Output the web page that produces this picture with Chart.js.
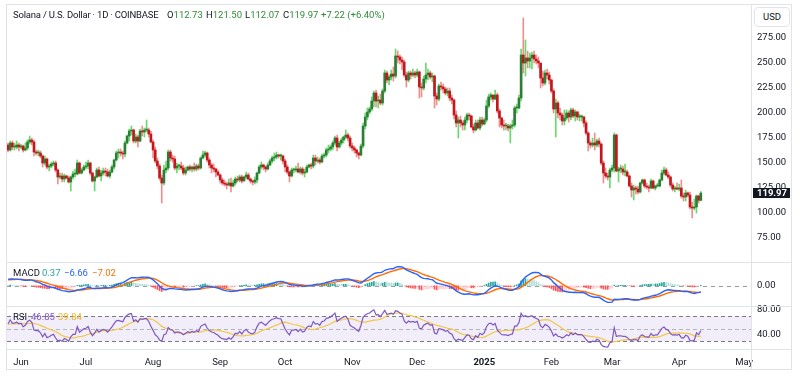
<!DOCTYPE html>
<html>
<head>
<meta charset="utf-8">
<title>Solana / U.S. Dollar · 1D · COINBASE</title>
<script src="https://cdn.jsdelivr.net/npm/chart.js@4.4.1/dist/chart.umd.min.js"></script>
<style>
html,body{margin:0;padding:0;background:#ffffff;}
body{width:800px;height:380px;position:relative;overflow:hidden;font-family:Roboto,"Liberation Sans",Arial,sans-serif;}
canvas{position:absolute;display:block;}
.ln{position:absolute;background:#e0e3eb;}
.t{position:absolute;white-space:nowrap;font-size:9.5px;line-height:12px;color:#131722;letter-spacing:0;}
.up{color:#2e8b3a;}
.box{position:absolute;left:754px;top:7px;width:34px;height:18px;border:1px solid #e0e3eb;border-radius:4px;background:#fff;font-size:9.5px;line-height:18px;text-align:center;color:#131722;}
</style>
</head>
<body>
<canvas id="priceChart" width="785" height="257" style="left:7px;top:5px"></canvas>
<canvas id="macdChart" width="785" height="43" style="left:7px;top:263px"></canvas>
<canvas id="rsiChart" width="785" height="70" style="left:7px;top:300px"></canvas>

<div class="ln" style="left:6px;top:4px;width:786px;height:1px"></div>
<div class="ln" style="left:6px;top:4px;width:1px;height:366px"></div>
<div class="ln" style="left:791px;top:4px;width:1px;height:366px"></div>
<div class="ln" style="left:751px;top:4px;width:1px;height:366px"></div>
<div class="ln" style="left:6px;top:262px;width:786px;height:1px"></div>
<div class="ln" style="left:6px;top:306px;width:786px;height:1px"></div>
<div class="ln" style="left:6px;top:349px;width:786px;height:1px"></div>
<div class="ln" style="left:6px;top:369px;width:786px;height:1px"></div>

<div class="box">USD</div>
<div class="t" style="left:13px;top:9px;letter-spacing:-0.2px">Solana / U.S. Dollar · 1D · COINBASE</div>
<div class="t" style="left:167px;top:9px">O<span class="up">112.73</span></div>
<div class="t" style="left:206px;top:9px">H<span class="up">121.50</span></div>
<div class="t" style="left:245px;top:9px">L<span class="up">112.07</span></div>
<div class="t" style="left:283px;top:9px">C<span class="up">119.97</span></div>
<div class="t up" style="left:321px;top:9px">+7.22 (+6.40%)</div>

<div class="t" style="left:13px;top:267px">MACD</div>
<div class="t" style="left:42px;top:267px;color:#26a69a">0.37</div>
<div class="t" style="left:64px;top:267px;color:#2962ff">−6.66</div>
<div class="t" style="left:92px;top:267px;color:#ff6d00">−7.02</div>

<div class="t" style="left:13px;top:311px">RSI</div>
<div class="t" style="left:31px;top:311px;color:#7e57c2">46.85</div>
<div class="t" style="left:58px;top:311px;color:#e9b820">39.84</div>

<script>
// ---------------- DATA (daily SOL/USD, Coinbase) ----------------
const startDate = '2024-05-26';
const firstOpen = 168;

const closes = [
  // May 26-31
  163,170,166,166,168,166,
  // Jun
  167,163,165,171,173,171,161,160,160,157,150,154,146,147,149,150,143,136,137,134,137,135,131,136,139,139,150,140,143,146,
  // Jul
  147,150,140,132,136,143,137,140,142,141,137,141,146,153,160,161,160,159,170,177,182,183,172,176,172,182,181,183,183,179,171,
  // Aug
  163,152,147,135,130,143,145,161,155,154,145,147,147,145,140,143,146,144,146,144,147,145,155,158,160,153,148,145,144,141,138,
  // Sep
  133,130,129,128,130,127,130,134,133,136,132,136,138,134,132,131,133,140,146,148,146,144,148,152,155,156,158,157,157,152,
  // Oct
  146,141,137,143,143,144,141,144,140,141,146,148,147,155,152,153,151,157,158,163,164,166,170,175,166,170,173,176,178,175,167,
  // Nov
  165,163,160,158,167,187,196,201,204,212,220,212,213,210,222,240,233,236,239,237,257,256,253,251,238,233,240,238,240,238,
  // Dec
  241,226,225,234,238,240,236,237,217,214,227,226,224,220,222,215,213,198,190,193,190,188,193,198,197,186,183,190,185,193,189,
  // Jan 2025
  193,207,216,218,214,218,202,195,188,187,187,185,187,188,205,205,215,258,250,255,252,255,258,254,252,250,235,230,240,238,233,
  // Feb
  222,204,210,200,198,192,195,200,196,203,197,201,196,196,196,190,180,170,168,170,168,172,169,150,140,137,136,143,
  // Mar
  145,178,142,144,144,141,141,137,127,123,125,124,121,130,133,127,126,125,132,125,127,127,133,140,143,138,136,128,124,125,124,
  // Apr 1-11
  125,117,116,120,118,106,105,106,117,112.73,119.97
];

const highs = [
  170,172,172,170,172,170,
  169,168,170,173,177,175,173,163,163,162,158,157,155,149,151,152,152,144,140,140,139,138,137,137,142,144,153,151,145,148,
  151,153,151,141,137,145,146,143,145,145,144,143,148,154,162,164,164,162,172,178,184,187,184,179,178,184,187,185,193,185,182,
  173,166,155,149,138,148,152,163,163,158,157,150,149,151,148,146,147,148,147,150,149,149,156,162,162,161,155,150,149,145,143,
  139,135,133,131,134,135,133,136,137,138,138,137,141,140,135,133,136,141,148,151,149,147,150,154,157,160,161,159,159,158,
  154,148,142,145,145,147,150,146,146,144,148,149,150,158,158,156,155,159,160,165,168,168,172,177,178,172,175,177,183,180,177,
  170,167,164,161,169,190,200,205,206,216,222,223,217,219,224,243,242,238,243,246,264,262,258,256,253,241,242,242,244,242,
  244,242,230,237,250,244,242,240,238,220,229,231,229,226,225,225,218,214,202,196,197,192,196,200,200,198,189,193,193,196,196,
  195,213,219,220,218,223,220,204,196,193,190,189,189,193,207,209,218,264,295,273,262,260,261,262,258,256,248,242,243,244,241,
  234,224,214,212,205,200,203,203,202,205,205,203,202,199,198,197,192,181,172,175,180,174,175,170,152,145,140,145,
  148,180,179,146,148,147,149,143,138,130,128,127,127,131,134,134,130,128,134,133,128,130,134,143,146,145,141,137,130,127,130,
  129,133,120,123,121,121,111,114,118,118,121.5
];

const lows = [
  161,162,163,163,164,162,
  164,161,162,163,169,168,157,158,157,155,146,148,144,142,145,147,141,129,134,131,131,134,130,122,134,136,138,139,139,142,
  144,144,138,131,122,135,136,132,138,137,136,135,140,144,152,155,157,154,156,169,172,178,170,170,166,171,177,176,181,176,170,
  155,150,144,133,110,128,140,143,152,151,143,140,143,143,138,138,142,142,141,142,142,143,144,154,156,151,145,140,141,136,137,
  130,128,127,124,127,121,126,128,131,131,130,132,134,133,130,128,129,130,139,144,143,141,143,147,150,152,154,155,153,149,
  141,139,131,136,140,141,140,139,138,136,140,145,144,145,148,150,149,150,155,156,160,162,163,168,162,165,168,170,174,172,165,
  162,160,156,154,157,165,184,193,199,202,206,206,205,208,208,220,230,228,233,232,235,250,249,243,236,226,231,234,236,235,
  236,215,216,223,230,233,234,231,205,208,212,223,220,218,217,212,209,194,186,175,186,183,183,190,193,185,180,182,184,183,187,
  188,191,205,213,211,213,200,186,185,183,183,182,170,184,186,200,204,212,240,237,245,245,244,250,249,245,225,227,228,234,229,
  220,200,176,195,193,188,188,193,191,193,195,192,193,192,192,186,178,162,165,166,163,166,166,148,130,135,133,125,
  141,141,141,131,140,138,137,136,126,116,113,119,119,120,129,125,124,121,124,124,123,126,126,132,138,137,134,126,122,121,123,
  122,115,112,112,116,104,95,103,100,110,112.07
];

// Axis tick labels
const priceTicks = [75, 100, 125, 150, 175, 200, 225, 250, 275];
const monthStarts = ['2024-06-01','2024-07-01','2024-08-01','2024-09-01','2024-10-01','2024-11-01','2024-12-01','2025-01-01','2025-02-01','2025-03-01','2025-04-01','2025-05-01'];
const monthLabels = ['Jun','Jul','Aug','Sep','Oct','Nov','Dec','2025','Feb','Mar','Apr','May'];
const macdTicks = [0];
const rsiTicks = [40, 80];
const rsiBands = [70, 50, 30];

// indicator values at the first visible bar
const macdStart = 7, signalStart = 6.5;
const rsiStart = 58, rsiMaStart = 57;

// ---------------- DERIVED ----------------
const n = closes.length;
const DAY = 86400000;
const t0 = Date.parse(startDate);
const dates = closes.map((_, i) => new Date(t0 + i * DAY).toISOString().slice(0, 10));
const idx = dates.map((_, i) => i);
const opens = [firstOpen].concat(closes.slice(0, -1));
const isUp = idx.map(i => closes[i] >= opens[i]);
const monthTickIdx = monthStarts.map(s => Math.round((Date.parse(s) - t0) / DAY));

// MACD (12, 26, 9)
const k12 = 2 / 13, k26 = 2 / 27, k9 = 2 / 10;
const slope = macdStart / 7;
let e12 = closes[0] - 5.5 * slope, e26 = closes[0] - 12.5 * slope, sig = signalStart;
const macd = [], signal = [], hist = [];
for (let i = 0; i < n; i++) {
  if (i > 0) {
    e12 += k12 * (closes[i] - e12);
    e26 += k26 * (closes[i] - e26);
  }
  const m = e12 - e26;
  if (i > 0) sig += k9 * (m - sig);
  macd.push(m); signal.push(sig); hist.push(m - sig);
}
const histColors = hist.map((h, i) => {
  const prev = i > 0 ? hist[i - 1] : h;
  if (h >= 0) return prev < h ? '#26a69a' : '#b2dfdb';
  return prev < h ? '#ffcdd2' : '#ff5252';
});

// RSI (14) and its 14-bar SMA
let absSum = 0;
for (let i = 1; i <= 14; i++) absSum += Math.abs(closes[i] - closes[i - 1]);
const avgAbs = absSum / 14;
let ag = avgAbs * rsiStart / 100, al = avgAbs * (1 - rsiStart / 100);
const rsi = [rsiStart];
for (let i = 1; i < n; i++) {
  const ch = closes[i] - closes[i - 1];
  ag = (ag * 13 + Math.max(ch, 0)) / 14;
  al = (al * 13 + Math.max(-ch, 0)) / 14;
  rsi.push(al === 0 ? 100 : 100 - 100 / (1 + ag / al));
}
const rsiMa = rsi.map((_, i) => {
  let s = 0;
  for (let j = i - 13; j <= i; j++) s += j >= 0 ? rsi[j] : rsiMaStart;
  return s / 14;
});

// ---------------- CHARTS ----------------
Chart.defaults.font.family = 'Roboto, "Liberation Sans", Arial, sans-serif';
Chart.defaults.color = '#131722';

const X_MIN = -0.47, X_MAX = 343.18;
const AXIS_W = 41;
const C = { upBody: '#2b7f34', upWick: '#6ad86e', downBody: '#c4161c', downWick: '#f08e8e' };

const baseOpts = {
  responsive: false,
  animation: false,
  events: [],
  layout: { padding: 0 },
  plugins: { legend: { display: false }, tooltip: { enabled: false }, title: { display: false } }
};

function xHidden() {
  return { type: 'linear', display: false, min: X_MIN, max: X_MAX, offset: false };
}
function yRight(min, max, ticks, extra) {
  return Object.assign({
    type: 'linear', position: 'right', min, max,
    grid: { display: false, drawTicks: false },
    border: { display: false },
    ticks: { padding: 6, color: '#131722', font: { size: 9.5 }, callback: v => Number(v).toFixed(2) },
    afterBuildTicks: s => { s.ticks = ticks.map(v => ({ value: v })); },
    afterFit: s => { s.width = AXIS_W; s.paddingTop = 0; s.paddingBottom = 0; }
  }, extra || {});
}

const lastPricePlugin = {
  id: 'lastPrice',
  afterDraw(chart) {
    const { ctx, chartArea: a, scales: { y } } = chart;
    const last = closes[n - 1];
    const py = Math.round(y.getPixelForValue(last));
    ctx.save();
    ctx.fillStyle = '#131722';
    ctx.fillRect(a.right + 2, py - 5, 37, 10);
    ctx.fillStyle = '#ffffff';
    ctx.font = 'bold 9.5px Roboto, "Liberation Sans", Arial, sans-serif';
    ctx.textBaseline = 'middle';
    ctx.textAlign = 'left';
    ctx.fillText(last.toFixed(2), a.right + 6, py + 0.5);
    ctx.restore();
  }
};

new Chart(document.getElementById('priceChart'), {
  type: 'bar',
  data: {
    datasets: [
      {
        label: 'body',
        data: idx.map(i => ({ x: i, y: [opens[i], closes[i]] })),
        backgroundColor: isUp.map(u => u ? C.upBody : C.downBody),
        barThickness: 2, minBarLength: 1, grouped: false, order: 0
      },
      {
        label: 'wick',
        data: idx.map(i => ({ x: i, y: [lows[i], highs[i]] })),
        backgroundColor: isUp.map(u => u ? C.upWick : C.downWick),
        barThickness: 1, grouped: false, order: 1
      }
    ]
  },
  options: Object.assign({}, baseOpts, {
    scales: { x: xHidden(), y: yRight(51, 308, priceTicks) }
  }),
  plugins: [lastPricePlugin]
});

const macdVals = macd.concat(signal, hist);
const mMin = Math.min.apply(null, macdVals), mMax = Math.max.apply(null, macdVals);
const mPad = (mMax - mMin) * 0.1;

const zeroLinePlugin = {
  id: 'zeroLine',
  beforeDatasetsDraw(chart) {
    const { ctx, chartArea: a, scales: { y } } = chart;
    const py = Math.round(y.getPixelForValue(0)) + 0.5;
    ctx.save();
    ctx.strokeStyle = '#9598a1';
    ctx.lineWidth = 1;
    ctx.setLineDash([4, 4]);
    ctx.beginPath(); ctx.moveTo(a.left, py); ctx.lineTo(a.right, py); ctx.stroke();
    ctx.restore();
  }
};

new Chart(document.getElementById('macdChart'), {
  type: 'bar',
  data: {
    datasets: [
      { type: 'line', label: 'MACD', data: idx.map(i => ({ x: i, y: macd[i] })), borderColor: '#2962ff', borderWidth: 1.4, pointRadius: 0, tension: 0, order: 0 },
      { type: 'line', label: 'Signal', data: idx.map(i => ({ x: i, y: signal[i] })), borderColor: '#ff6d00', borderWidth: 1.4, pointRadius: 0, tension: 0, order: 1 },
      { type: 'bar', label: 'Histogram', data: idx.map(i => ({ x: i, y: hist[i] })), backgroundColor: histColors, barThickness: 1, grouped: false, order: 2 }
    ]
  },
  options: Object.assign({}, baseOpts, {
    scales: { x: xHidden(), y: yRight(mMin - mPad, mMax + mPad, macdTicks) }
  }),
  plugins: [zeroLinePlugin]
});

const rsiGuidePlugin = {
  id: 'rsiGuides',
  beforeDatasetsDraw(chart) {
    const { ctx, chartArea: a, scales: { y } } = chart;
    const yTop = y.getPixelForValue(rsiBands[0]);
    const yMid = y.getPixelForValue(rsiBands[1]);
    const yBot = y.getPixelForValue(rsiBands[2]);
    ctx.save();
    ctx.fillStyle = 'rgba(126,87,194,0.1)';
    ctx.fillRect(a.left, yTop, a.right - a.left, yBot - yTop);
    ctx.lineWidth = 1;
    ctx.setLineDash([4, 3]);
    [[yTop, '#787b86'], [yMid, 'rgba(120,123,134,0.5)'], [yBot, '#787b86']].forEach(([p, col]) => {
      const py = Math.round(p) + 0.5;
      ctx.strokeStyle = col;
      ctx.beginPath(); ctx.moveTo(a.left, py); ctx.lineTo(a.right, py); ctx.stroke();
    });
    ctx.restore();
  }
};

new Chart(document.getElementById('rsiChart'), {
  type: 'line',
  data: {
    datasets: [
      { label: 'RSI', data: idx.map(i => ({ x: i, y: rsi[i] })), borderColor: '#7e57c2', borderWidth: 1.2, pointRadius: 0, tension: 0, order: 0 },
      { label: 'RSI-based MA', data: idx.map(i => ({ x: i, y: rsiMa[i] })), borderColor: '#f2c744', borderWidth: 1.2, pointRadius: 0, tension: 0, order: 1 }
    ]
  },
  options: Object.assign({}, baseOpts, {
    layout: { padding: { top: 7, left: 0, right: 0, bottom: 0 } },
    scales: {
      x: {
        type: 'linear', position: 'bottom', min: X_MIN, max: X_MAX, offset: false,
        grid: { display: false, drawTicks: false },
        border: { display: false },
        ticks: {
          padding: 8, maxRotation: 0, minRotation: 0, autoSkip: false, color: '#131722',
          font: c => ({ size: 9.5, weight: monthLabels[c.index] === '2025' ? 'bold' : 'normal' }),
          callback: (v, i) => monthLabels[i]
        },
        afterBuildTicks: s => { s.ticks = monthTickIdx.map(v => ({ value: v })); },
        afterFit: s => { s.height = 21; s.paddingLeft = 0; s.paddingRight = 0; }
      },
      y: yRight(17.6, 84.8, rsiTicks)
    }
  }),
  plugins: [rsiGuidePlugin]
});
</script>
</body>
</html>
